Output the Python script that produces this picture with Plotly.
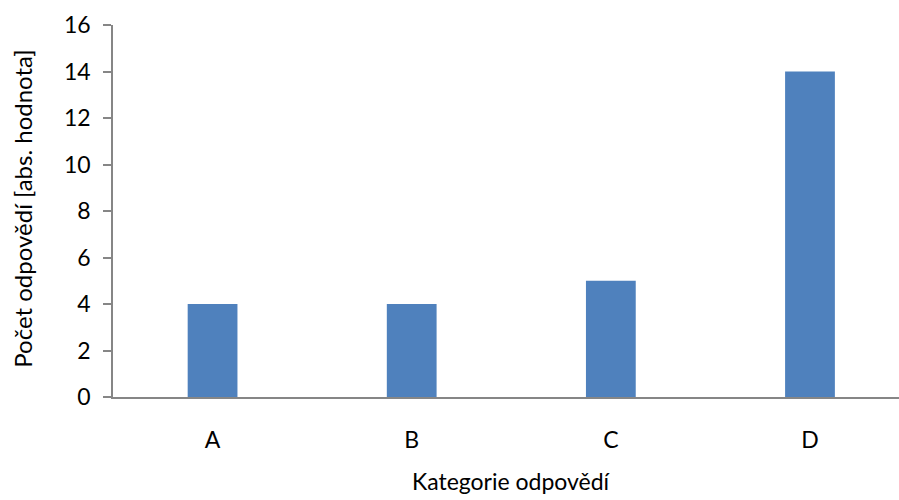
import plotly.graph_objects as go

# Answer categories and counts
categories = ["A", "B", "C", "D"]
counts = [4, 4, 5, 14]
y_ticks = [0, 2, 4, 6, 8, 10, 12, 14, 16]

x_title = "Kategorie odpovědí"
y_title = "Počet odpovědí [abs. hodnota]"

FONT = "Lato, 'Open Sans', sans-serif"
AXIS_COLOR = "#868686"
FS = 23

fig = go.Figure(
    go.Bar(
        x=categories,
        y=counts,
        width=0.25,
        marker=dict(color="#4F81BD", line=dict(width=0)),
    )
)

fig.update_layout(
    width=899,
    height=500,
    margin=dict(l=113, r=0, t=25, b=103),
    paper_bgcolor="white",
    plot_bgcolor="white",
    showlegend=False,
    font=dict(family=FONT, size=FS, color="#000000"),
)

fig.update_xaxes(
    range=[-0.5, 3.447],
    showline=True,
    linecolor=AXIS_COLOR,
    linewidth=1.5,
    showgrid=False,
    zeroline=False,
    ticks="",
    ticklabelstandoff=22,
    tickfont=dict(size=FS),
)

fig.update_yaxes(
    range=[0, 16],
    tickvals=y_ticks,
    showline=True,
    linecolor=AXIS_COLOR,
    linewidth=1.5,
    showgrid=False,
    zeroline=False,
    ticks="outside",
    ticklen=8,
    tickcolor=AXIS_COLOR,
    tickwidth=1.5,
    ticklabelstandoff=8,
    tickfont=dict(size=FS),
)

fig.add_annotation(
    x=1.5, xref="x",
    y=-0.226, yref="paper",
    text=x_title,
    showarrow=False,
    font=dict(size=FS),
    xanchor="center", yanchor="middle",
)

fig.add_annotation(
    x=-0.115, xref="paper",
    y=0.505, yref="paper",
    text=y_title,
    textangle=-90,
    showarrow=False,
    font=dict(size=24),
    xanchor="center", yanchor="middle",
)

fig.write_html("out.html")
